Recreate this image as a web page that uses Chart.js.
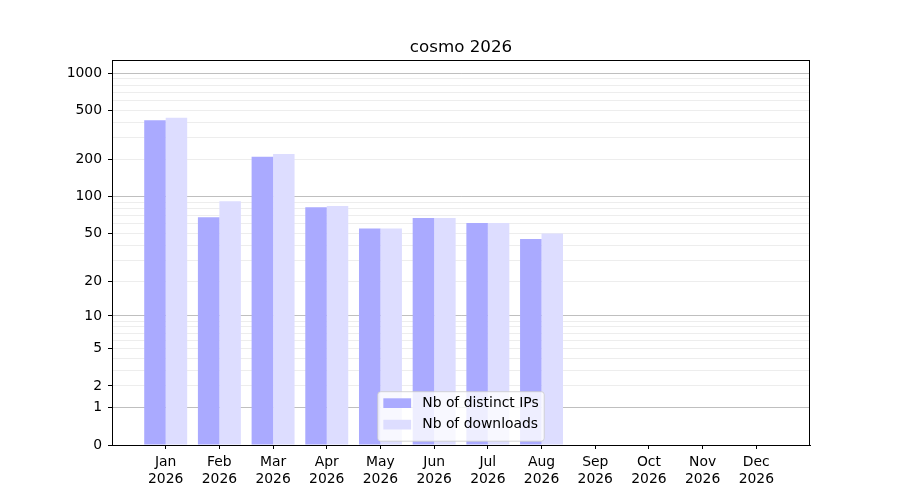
<!DOCTYPE html>
<html>
<head>
<meta charset="utf-8">
<script src="https://cdn.jsdelivr.net/npm/chart.js@4.4.1/dist/chart.umd.min.js"></script>
<style>
  body { margin: 0; background: #fff; }
  #contenedor { width: 900px; height: 500px; }
</style>
</head>
<body>
<div id="contenedor"><canvas id="grafico"></canvas></div>
<script>
const titulo = 'cosmo 2026'
const meses = ['Jan', 'Feb', 'Mar', 'Apr', 'May', 'Jun', 'Jul', 'Aug', 'Sep', 'Oct', 'Nov', 'Dec']
const anio = '2026'
const etiqueta_ips = 'Nb of distinct IPs'
const etiqueta_descargas = 'Nb of downloads'
const ips = [418, 68, 211, 82, 55, 67, 61, 45]
const descargas = [437, 92, 222, 84, 55, 67, 61, 50]
const ticks_y = [0, 1, 2, 5, 10, 20, 50, 100, 200, 500, 1000]
const ticks_mayores = [1, 10, 100, 1000]
const ticks_menores = [3, 4, 6, 7, 8, 9, 30, 40, 60, 70, 80, 90, 300, 400, 600, 700, 800, 900]
const y_max = 1280

const fuente = 'DejaVu Sans'

// the y axis is log10(n + 1), so 0 can sit at the bottom
function escala(v){ return Math.log10(v + 1) }
function original(v){ return Math.round(Math.pow(10, v) - 1) }

const marco = {
  id: 'marco',
  afterDraw(chart){
    const ctx = chart.ctx
    const a = chart.chartArea
    ctx.save()
    ctx.strokeStyle = '#000'
    ctx.lineWidth = 1
    ctx.strokeRect(Math.round(a.left) + 0.5, Math.round(a.top) + 0.5, Math.round(a.right - a.left) - 1, Math.round(a.bottom - a.top))
    ctx.restore()
  }
}

const leyenda = {
  id: 'leyenda',
  afterDraw(chart){
    const ctx = chart.ctx
    const a = chart.chartArea
    const fs = 13.9
    ctx.save()
    ctx.font = fs + 'px "' + fuente + '"'
    const sets = chart.data.datasets
    let ancho_texto = 0
    sets.forEach(d => { ancho_texto = Math.max(ancho_texto, ctx.measureText(d.label).width) })
    const pad = 0.4 * fs
    const mango = 2 * fs
    const sep = 0.8 * fs
    const fila = 21.5
    const w = pad + mango + sep + ancho_texto + pad
    const h = 49.5
    const x = (a.left + a.right) / 2 - w / 2
    const y = a.bottom - 3.8 - h
    ctx.beginPath()
    ctx.roundRect(x, y, w, h, 3)
    ctx.fillStyle = 'rgba(255,255,255,0.8)'
    ctx.fill()
    ctx.strokeStyle = 'rgba(204,204,204,0.8)'
    ctx.lineWidth = 1
    ctx.stroke()
    sets.forEach((d, i) => {
      const cy = y + 11.5 + i * fila
      ctx.fillStyle = d.backgroundColor
      ctx.fillRect(x + pad, cy - 4.9, mango, 9.7)
      ctx.fillStyle = '#000'
      ctx.textBaseline = 'middle'
      ctx.fillText(d.label, x + pad + mango + sep, cy)
    })
    ctx.restore()
  }
}

let grafico = document.getElementById('grafico').getContext('2d')

new Chart(grafico, {
  type: 'bar',
  data: {
    datasets: [{
      label: etiqueta_ips,
      data: ips.map((v, i) => ({ x: i, y: escala(v) })),
      backgroundColor: '#aaaaff',
      barPercentage: 1,
      categoryPercentage: 0.8
    }, {
      label: etiqueta_descargas,
      data: descargas.map((v, i) => ({ x: i, y: escala(v) })),
      backgroundColor: '#ddddff',
      barPercentage: 1,
      categoryPercentage: 0.8
    }]
  },
  options: {
    responsive: true,
    maintainAspectRatio: false,
    animation: false,
    layout: { padding: { left: 22, right: 0, top: 0, bottom: 0 } },
    plugins: {
      legend: { display: false },
      tooltip: { enabled: false },
      title: {
        display: true,
        text: titulo,
        color: '#000',
        font: { family: fuente, size: 16.7, weight: 'normal' },
        padding: { top: 38, bottom: 2 }
      }
    },
    scales: {
      x: {
        type: 'linear',
        min: -1,
        max: 12,
        offset: false,
        afterBuildTicks: s => { s.ticks = meses.map((m, i) => ({ value: i })) },
        afterFit: s => { s.height = 55 },
        grid: { drawOnChartArea: false, offset: false, tickColor: '#000', tickLength: 4 },
        border: { color: '#000' },
        ticks: {
          autoSkip: false,
          maxRotation: 0,
          padding: 5,
          color: '#000',
          font: { family: fuente, size: 13.9, lineHeight: 1.2 },
          callback: v => [meses[v], anio]
        }
      },
      y: {
        type: 'linear',
        min: 0,
        max: escala(y_max),
        z: 1,
        afterBuildTicks: s => {
          s.ticks = ticks_y.concat(ticks_menores).sort((p, q) => p - q).map(v => ({ value: escala(v) }))
        },
        afterFit: s => { s.width = 90 },
        grid: {
          lineWidth: 1,
          tickLength: 4,
          color: c => {
            const v = original(c.tick.value)
            if (v === 0) return 'rgba(0,0,0,0)'
            return ticks_mayores.includes(v) ? 'rgba(0,0,0,0.25)' : 'rgba(0,0,0,0.07)'
          },
          tickColor: c => ticks_y.includes(original(c.tick.value)) ? '#000' : 'rgba(0,0,0,0)'
        },
        border: { color: '#000' },
        ticks: {
          autoSkip: false,
          padding: 6,
          color: '#000',
          font: { family: fuente, size: 13.9 },
          callback: v => {
            const n = original(v)
            return ticks_y.includes(n) ? String(n) : ''
          }
        }
      },
      margen: {
        type: 'linear',
        position: 'right',
        display: true,
        afterFit: s => { s.width = 90 },
        grid: { display: false },
        ticks: { display: false },
        border: { display: false }
      }
    }
  },
  plugins: [marco, leyenda]
})
</script>
</body>
</html>
